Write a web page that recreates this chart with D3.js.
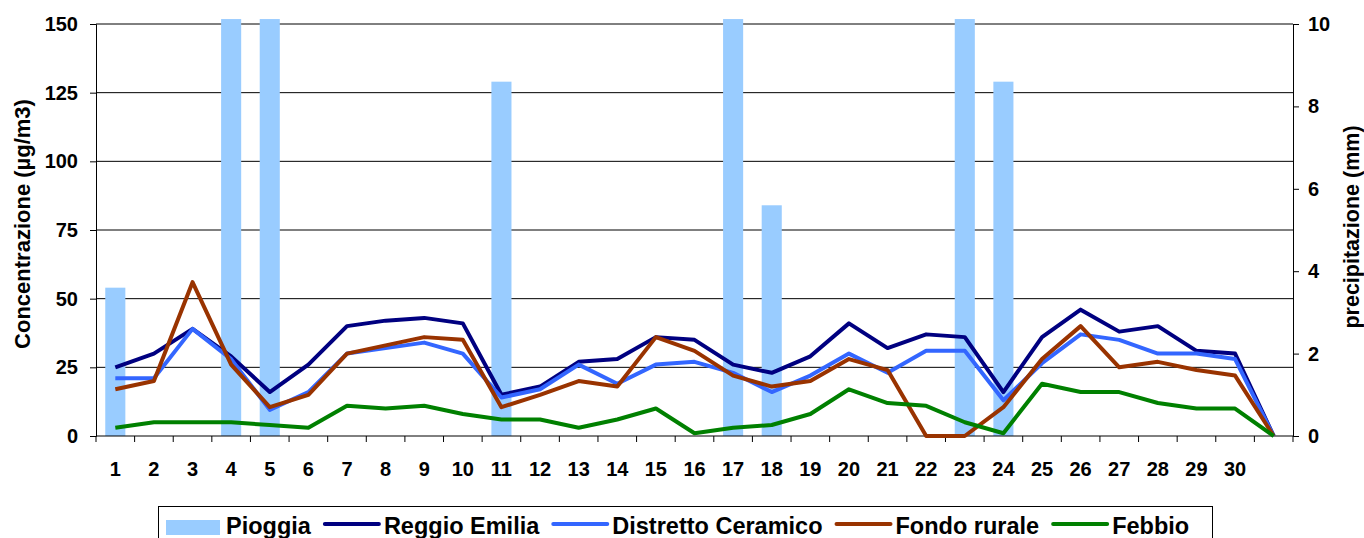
<!DOCTYPE html>
<html lang="it">
<head>
    <meta charset="UTF-8">
    <title>Concentrazione e precipitazione</title>
    <script src="https://cdn.jsdelivr.net/npm/d3@7"></script>
    <style>
        body { margin: 0; background: #fff; }
        text { font-family: Arial, "Liberation Sans", sans-serif; font-weight: bold; fill: #000; }
    </style>
</head>
<body>
    <script>
        // Giorni del mese (l'ultima posizione è vuota, le linee scendono a zero)
        const giorni = ["1","2","3","4","5","6","7","8","9","10","11","12","13","14","15",
                        "16","17","18","19","20","21","22","23","24","25","26","27","28","29","30",""];

        // Pioggia in mm (asse destro); i valori oltre 10 escono dalla scala
        const pioggia = [3.6,0,0,14,14,0,0,0,0,0,8.6,0,0,0,0,0,14,5.6,0,0,0,0,14,8.6,0,0,0,0,0,0,0];

        // Concentrazioni in µg/m3 (asse sinistro)
        const reggioEmilia = [25,30,39,29,16,26,40,42,43,41,15,18,27,28,36,35,26,23,29,41,32,37,36,16,36,46,38,40,31,30,0];
        const distrettoCeramico = [21,21,39,28,9.5,16,30,32,34,30,14,17,26,19,26,27,23,16,22,30,23,31,31,13,26.5,37,35,30,30,28,0];
        const fondoRurale = [17,20,56,26,10.5,15,30,33,36,35,10.5,15,20,18,36,31,22,18,20,28,24,0,0,10.5,28,40,25,27,24,22,0];
        const febbio = [3,5,5,5,4,3,11,10,11,8,6,6,3,6,10,1,3,4,8,17,12,11,5,1,19,16,16,12,10,10,0];

        const tickSinistra = [0,25,50,75,100,125,150];
        const tickDestra = [0,2,4,6,8,10];

        const serie = [
            { nome: "Reggio Emilia", valori: reggioEmilia, colore: "#000080" },
            { nome: "Distretto Ceramico", valori: distrettoCeramico, colore: "#3366FF" },
            { nome: "Fondo rurale", valori: fondoRurale, colore: "#993300" },
            { nome: "Febbio", valori: febbio, colore: "#008000" }
        ];
        const colorePioggia = "#99CCFF";

        const W = 1364, H = 538;
        const m = { left: 96, right: 1293, top: 24, bottom: 436 };

        const svg = d3.select("body").append("svg")
            .attr("width", W)
            .attr("height", H);

        // Scale
        const x = d3.scaleBand().domain(d3.range(giorni.length)).range([m.left, m.right]).padding(0);
        const yL = d3.scaleLinear().domain([0, 150]).range([m.bottom, m.top]);
        const yR = d3.scaleLinear().domain([0, 10]).range([m.bottom, m.top]);
        const larghezzaBarra = x.bandwidth() * 0.52;

        // Griglia orizzontale
        svg.append("g").selectAll("line")
            .data(tickSinistra.filter(d => d > 0))
            .enter().append("line")
            .attr("x1", m.left).attr("x2", m.right)
            .attr("y1", d => yL(d)).attr("y2", d => yL(d))
            .attr("stroke", "#000").attr("stroke-width", 1);

        // Barre pioggia (tagliate poco sopra il bordo del grafico)
        const tetto = yR(10.12);
        svg.append("g").selectAll("rect")
            .data(pioggia)
            .enter().append("rect")
            .attr("x", (d, i) => x(i) + (x.bandwidth() - larghezzaBarra) / 2)
            .attr("width", larghezzaBarra)
            .attr("y", d => Math.max(yR(d), tetto))
            .attr("height", d => yR(0) - Math.max(yR(d), tetto))
            .attr("fill", colorePioggia);

        // Assi
        const assex = svg.append("g").attr("transform", `translate(0,${m.bottom})`);
        assex.append("line").attr("x1", m.left).attr("x2", m.right).attr("stroke", "#000");
        assex.selectAll("line.tick")
            .data(d3.range(giorni.length + 1))
            .enter().append("line")
            .attr("class", "tick")
            .attr("x1", i => m.left + i * x.bandwidth()).attr("x2", i => m.left + i * x.bandwidth())
            .attr("y1", 0).attr("y2", 6)
            .attr("stroke", "#000");
        assex.selectAll("text")
            .data(giorni)
            .enter().append("text")
            .attr("x", (d, i) => x(i) + x.bandwidth() / 2)
            .attr("y", 40)
            .attr("text-anchor", "middle")
            .attr("font-size", "20px")
            .text(d => d);

        const asseSx = svg.append("g")
            .attr("transform", `translate(${m.left},0)`)
            .call(d3.axisLeft(yL).tickValues(tickSinistra).tickSize(6).tickPadding(12));
        const asseDx = svg.append("g")
            .attr("transform", `translate(${m.right},0)`)
            .call(d3.axisRight(yR).tickValues(tickDestra).tickSize(6).tickPadding(9));
        [asseSx, asseDx].forEach(a => {
            a.select(".domain").attr("stroke", "#000");
            a.selectAll(".tick line").attr("stroke", "#000");
            a.selectAll(".tick text")
                .attr("font-size", "20px")
                .attr("font-family", "Arial, 'Liberation Sans', sans-serif")
                .attr("font-weight", "bold")
                .attr("fill", "#000");
        });

        // Linee
        const linea = d3.line()
            .x((d, i) => x(i) + x.bandwidth() / 2)
            .y(d => yL(d));
        svg.append("g").selectAll("path")
            .data(serie)
            .enter().append("path")
            .attr("d", d => linea(d.valori))
            .attr("fill", "none")
            .attr("stroke", d => d.colore)
            .attr("stroke-width", 4)
            .attr("stroke-linejoin", "round");

        // Titoli degli assi
        svg.append("text")
            .attr("transform", `translate(30,224) rotate(-90)`)
            .attr("text-anchor", "middle")
            .attr("font-size", "22px")
            .text("Concentrazione (µg/m3)");
        svg.append("text")
            .attr("transform", `translate(1359,227) rotate(-90)`)
            .attr("text-anchor", "middle")
            .attr("font-size", "21.5px")
            .text("precipitazione (mm)");

        // Legenda (tagliata dal bordo inferiore come nell'originale)
        const leg = svg.append("g");
        leg.append("rect")
            .attr("x", 158.5).attr("y", 506.5)
            .attr("width", 1054).attr("height", 60)
            .attr("fill", "#fff").attr("stroke", "#000");

        const voci = [{ nome: "Pioggia", colore: colorePioggia, barra: true }]
            .concat(serie.map(s => ({ nome: s.nome, colore: s.colore, barra: false })));
        let px = 166;
        voci.forEach(v => {
            if (v.barra) {
                leg.append("rect").attr("x", px).attr("y", 520).attr("width", 54).attr("height", 15).attr("fill", v.colore);
            } else {
                leg.append("line").attr("x1", px + 1).attr("x2", px + 55).attr("y1", 524).attr("y2", 524)
                    .attr("stroke", v.colore).attr("stroke-width", 4).attr("stroke-linecap", "round");
            }
            px += 60;
            const t = leg.append("text")
                .attr("x", px).attr("y", 534)
                .attr("font-size", "23.5px")
                .text(v.nome);
            px += t.node().getComputedTextLength() + 13;
        });
    </script>
</body>
</html>
